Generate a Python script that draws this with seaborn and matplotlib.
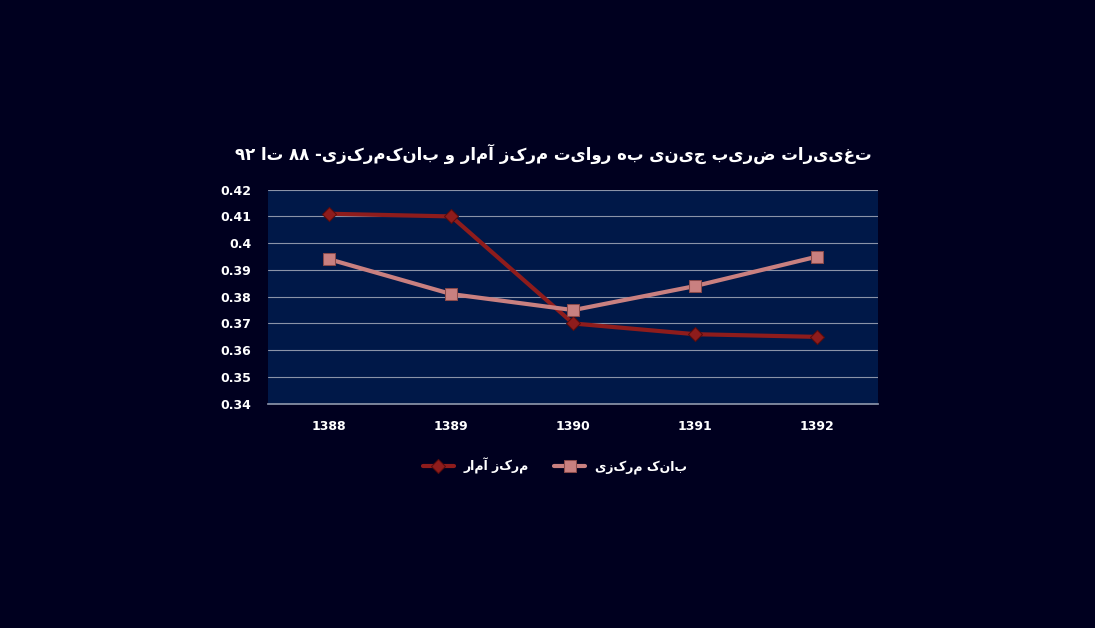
import re
import matplotlib
matplotlib.use("Agg")
import matplotlib.pyplot as plt
import seaborn as sns
import pandas as pd

years = ["1388", "1389", "1390", "1391", "1392"]
markaz_amar = [0.411, 0.410, 0.370, 0.366, 0.365]
bank_markazi = [0.394, 0.381, 0.375, 0.384, 0.395]
y_ticks = [0.34, 0.35, 0.36, 0.37, 0.38, 0.39, 0.4, 0.41, 0.42]

title_text = "تغییرات ضریب جینی به روایت مرکز آمار و بانک‌مرکزی- ۸۸ تا ۹۲"
label_amar = "مرکز آمار"
label_bank = "بانک مرکزی"


def visual(s):
    # simple RTL ordering: reverse, then restore digit runs
    s = s.replace("\u200c", "")[::-1]
    return re.sub(r"[0-9۰-۹]+", lambda m: m.group(0)[::-1], s)


sns.set_theme(style="white")
plt.rcParams['font.family'] = ['DejaVu Sans']

bg = "#00001f"
fig = plt.figure(figsize=(10.95, 6.28), dpi=100, facecolor=bg)
ax = fig.add_axes([0.245, 0.357, 0.557, 0.341])
ax.set_facecolor("#001848")

df = pd.DataFrame({"year": years, "amar": markaz_amar, "bank": bank_markazi})
sns.lineplot(data=df, x="year", y="amar", ax=ax, color="#8e1c1c", lw=3,
             marker="D", markersize=7, markeredgecolor="#5a0c0c",
             label=visual(label_amar), sort=False)
sns.lineplot(data=df, x="year", y="bank", ax=ax, color="#c98080", lw=3,
             marker="s", markersize=9, markeredgecolor="#8a4a4a",
             label=visual(label_bank), sort=False)

ax.set_xlim(-0.5, len(years) - 0.5)
ax.set_ylim(0.34, 0.42)
ax.set_yticks(y_ticks)
ax.set_yticklabels([f"{v:g}" for v in y_ticks])
ax.yaxis.grid(True, color="#8a93a8", lw=0.8)
ax.set_axisbelow(True)
for s in ["top", "right", "left"]:
    ax.spines[s].set_visible(False)
ax.spines["bottom"].set_color("#8a93a8")
ax.tick_params(colors="white", labelsize=9, length=0, pad=12)
for t in ax.get_xticklabels() + ax.get_yticklabels():
    t.set_fontweight("bold")
ax.set_xlabel("")
ax.set_ylabel("")

leg = ax.legend(loc="upper center", bbox_to_anchor=(0.47, -0.2), ncol=2,
                frameon=False, fontsize=9, handlelength=2.5)
for t in leg.get_texts():
    t.set_color("white")
    t.set_fontweight("bold")

fig.text(0.505, 0.755, visual(title_text), color="white", fontsize=12,
         fontweight="bold", ha="center", va="center")

fig.savefig("out.png", dpi=100, facecolor=bg)
